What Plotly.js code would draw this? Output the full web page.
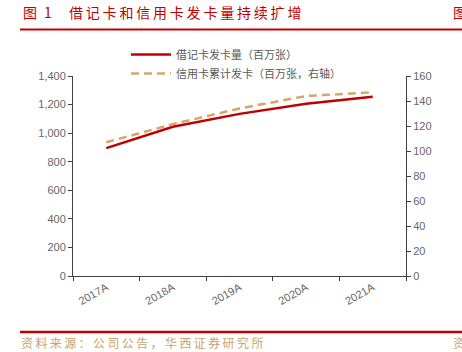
<!DOCTYPE html>
<html>
<head>
<meta charset="utf-8">
<script src="https://cdn.plot.ly/plotly-3.0.1.min.js"></script>
<style>
html,body{margin:0;padding:0;background:#fff;}
#chart{width:462px;height:352px;}
</style>
</head>
<body>
<div id="chart"></div>
<script>
const years = ["2017A", "2018A", "2019A", "2020A", "2021A"];
const debitCards = [895, 1045, 1135, 1205, 1255];
const creditCards = [107, 121.5, 134, 144, 147];
const seriesNames = ["借记卡发卡量（百万张）", "信用卡累计发卡（百万张，右轴）"];
const figLabel = "图\u20021";
const figTitle = "借记卡和信用卡发卡量持续扩增";
const sourceText = "资料来源：公司公告，华西证券研究所";

const spaced = s => Array.from(s).join('\u2009');

const W = 462, H = 352, L = 73, R = 56, T = 76, B = 76;
const pw = W - L - R, ph = H - T - B;
const px = x => (x - L) / pw;
const py = y => (H - B - y) / ph;

const cjk = '"Noto Sans CJK SC", "Noto Sans", sans-serif';
const axisFont = {family: 'Liberation Sans, Arial, sans-serif', size: 11, color: '#666666'};

const traces = [
  {x: years, y: debitCards, name: seriesNames[0], type: 'scatter', mode: 'lines',
   line: {color: '#C00000', width: 2.5}, yaxis: 'y'},
  {x: years, y: creditCards, name: seriesNames[1], type: 'scatter', mode: 'lines',
   line: {color: '#D4A66A', width: 2.5, dash: '8px,5px'}, yaxis: 'y2'}
];

const layout = {
  width: W, height: H,
  margin: {l: L, r: R, t: T, b: B},
  paper_bgcolor: '#ffffff', plot_bgcolor: '#ffffff',
  showlegend: true,
  legend: {x: px(126), y: py(40), xanchor: 'left', yanchor: 'top',
    font: {family: cjk, size: 11, color: '#595959'}, bgcolor: 'rgba(0,0,0,0)',
    tracegroupgap: 0, itemwidth: 40},
  xaxis: {type: 'category', tickson: 'boundaries', ticks: 'outside', ticklen: 4,
    tickcolor: '#404040', showline: true, linecolor: '#404040', linewidth: 1,
    showgrid: false, zeroline: false, tickangle: -30, tickfont: axisFont,
    range: [-0.5, 4.5]},
  yaxis: {range: [0, 1400], dtick: 200, tickformat: ',d', ticks: 'outside', ticklen: 4,
    tickcolor: '#404040', showline: true, linecolor: '#404040', linewidth: 1,
    showgrid: false, zeroline: false, tickfont: axisFont},
  yaxis2: {range: [0, 160], dtick: 20, overlaying: 'y', side: 'right', ticks: 'outside', ticklen: 4,
    tickcolor: '#404040', showline: true, linecolor: '#404040', linewidth: 1,
    showgrid: false, zeroline: false, tickfont: axisFont},
  shapes: [
    {type: 'line', xref: 'paper', yref: 'paper', x0: px(20), x1: px(462), y0: py(29.5), y1: py(29.5),
     line: {color: '#C00000', width: 2}},
    {type: 'line', xref: 'paper', yref: 'paper', x0: px(20), x1: px(462), y0: py(332), y1: py(332),
     line: {color: '#C00000', width: 2.5}}
  ],
  annotations: [
    {text: figLabel, xref: 'paper', yref: 'paper', x: px(21), y: py(12), xanchor: 'left', yanchor: 'middle',
     showarrow: false, font: {family: cjk, size: 14, color: '#C00000'}},
    {text: spaced(figTitle), xref: 'paper', yref: 'paper', x: px(67), y: py(12), xanchor: 'left', yanchor: 'middle',
     showarrow: false, font: {family: cjk, size: 14, color: '#C00000'}},
    {text: '图', xref: 'paper', yref: 'paper', x: px(451), y: py(12), xanchor: 'left', yanchor: 'middle',
     showarrow: false, font: {family: cjk, size: 14, color: '#C00000'}},
    {text: spaced(sourceText), xref: 'paper', yref: 'paper', x: px(19), y: py(342), xanchor: 'left', yanchor: 'middle',
     showarrow: false, font: {family: cjk, size: 12, color: '#C8A46E'}},
    {text: '资', xref: 'paper', yref: 'paper', x: px(451), y: py(342), xanchor: 'left', yanchor: 'middle',
     showarrow: false, font: {family: cjk, size: 12, color: '#C8A46E'}}
  ]
};

Plotly.newPlot('chart', traces, layout, {displayModeBar: false, staticPlot: true});
</script>
</body>
</html>
